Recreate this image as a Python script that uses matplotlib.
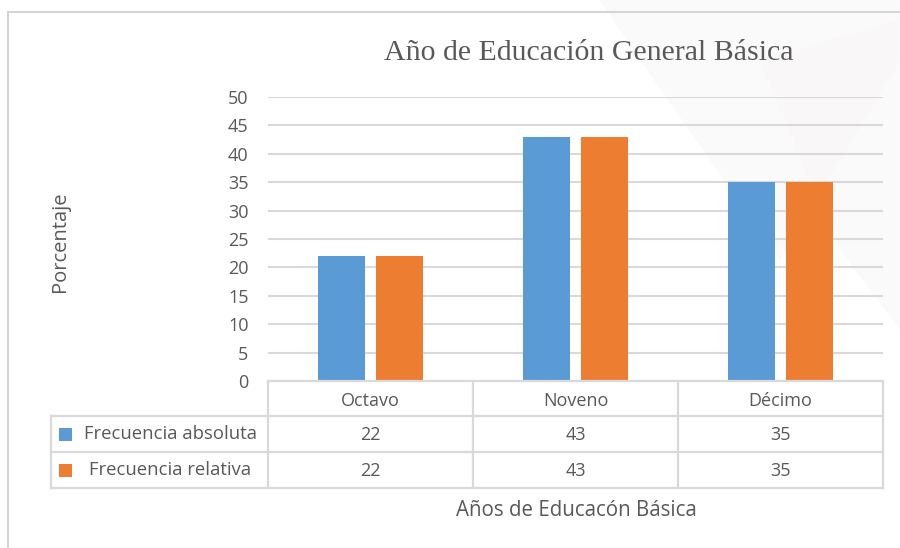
import matplotlib.pyplot as plt
from matplotlib.patches import Polygon, Rectangle
import numpy as np

categories = ["Octavo", "Noveno", "Décimo"]
series_names = ["Frecuencia absoluta", "Frecuencia relativa"]
frec_absoluta = [22, 43, 35]
frec_relativa = [22, 43, 35]
y_ticks = [0, 5, 10, 15, 20, 25, 30, 35, 40, 45, 50]

title = "Año de Educación General Básica"
y_label = "Porcentaje"
x_label = "Años de Educacón Básica"

BLUE = "#5b9bd5"
ORANGE = "#ed7d31"
GRID = "#d9d9d9"
TEXT = "#595959"
SANS = ["Open Sans", "DejaVu Sans"]

W, H = 900, 548
fig = plt.figure(figsize=(W / 100, H / 100), dpi=100, facecolor="white")


def fx(px):
    return px / W


def fy(py):
    return 1 - py / H


# faint decorative background shapes behind the chart
bg = fig.add_axes([0, 0, 1, 1], zorder=-5)
bg.set_xlim(0, W)
bg.set_ylim(H, 0)
bg.axis("off")
for pts in [
    [(600, 0), (900, 0), (900, 60), (780, 260), (640, 60)],
    [(760, 60), (900, 20), (900, 330), (840, 250)],
]:
    bg.add_patch(Polygon(pts, closed=True, facecolor="#f7f4f5", edgecolor="none", alpha=0.45))

# outer chart border (top and left edges visible)
bg.plot([8, W], [12, 12], color="#d4d4d4", lw=1.5)
bg.plot([8, 8], [12, H], color="#d4d4d4", lw=1.5)

# plot area
left, right, top, bottom = 268, 883, 97, 381
ax = fig.add_axes([fx(left), fy(bottom), fx(right - left), (bottom - top) / H])
ax.set_facecolor("none")
x = np.arange(len(categories))
bw = 0.23
gap = 0.055
ax.bar(x - (bw + gap) / 2, frec_absoluta, width=bw, color=BLUE, zorder=3)
ax.bar(x + (bw + gap) / 2, frec_relativa, width=bw, color=ORANGE, zorder=3)
ax.set_xlim(-0.5, len(categories) - 0.5)
ax.set_ylim(0, 50)
ax.set_yticks(y_ticks)
ax.yaxis.grid(True, color=GRID, lw=1.5, zorder=0)
ax.set_axisbelow(True)
ax.tick_params(axis="y", length=0, pad=14, labelsize=13, labelcolor=TEXT)
ax.tick_params(axis="x", length=0, labelbottom=False)
for lab in ax.get_yticklabels():
    lab.set_family(SANS)
for s in ax.spines.values():
    s.set_visible(False)

# data table under the bars
tab_left = 51
rows_y = [381, 416, 452, 488]
col_px = np.linspace(left, right, len(categories) + 1)
tb = fig.add_axes([0, 0, 1, 1], zorder=2)
tb.set_xlim(0, W)
tb.set_ylim(H, 0)
tb.axis("off")
lw = 1.6
tb.plot([left, right], [rows_y[0]] * 2, color=GRID, lw=lw)
for yy in rows_y[1:]:
    tb.plot([tab_left, right], [yy, yy], color=GRID, lw=lw)
for xx in col_px:
    tb.plot([xx, xx], [rows_y[0], rows_y[-1]], color=GRID, lw=lw)
tb.plot([tab_left, tab_left], [rows_y[1], rows_y[-1]], color=GRID, lw=lw)

for i, cat in enumerate(categories):
    cx = (col_px[i] + col_px[i + 1]) / 2
    tb.text(cx, (rows_y[0] + rows_y[1]) / 2 + 2, cat, ha="center", va="center",
            fontsize=13, color=TEXT, family=SANS)
    for r, vals in enumerate([frec_absoluta, frec_relativa]):
        tb.text(cx, (rows_y[r + 1] + rows_y[r + 2]) / 2 + 1, str(vals[i]),
                ha="center", va="center", fontsize=13, color=TEXT, family=SANS)

for r, (name, col) in enumerate(zip(series_names, [BLUE, ORANGE])):
    cy = (rows_y[r + 1] + rows_y[r + 2]) / 2
    tb.add_patch(Rectangle((59, cy - 6.5), 13, 13, facecolor=col, edgecolor="none"))
    tb.text(170, cy, name, ha="center", va="center", fontsize=13.3, color=TEXT, family=SANS)

fig.text(fx(589), fy(53), title, ha="center", va="center", fontsize=21.5,
         color=TEXT, family=["Liberation Serif", "DejaVu Serif"])
fig.text(fx(60), fy(242), y_label, ha="center", va="center", rotation=90,
         fontsize=14.5, color=TEXT, family=SANS)
fig.text(fx(576), fy(510), x_label, ha="center", va="center", fontsize=14.8,
         color=TEXT, family=SANS)

fig.savefig("out.png", dpi=100, facecolor="white")
